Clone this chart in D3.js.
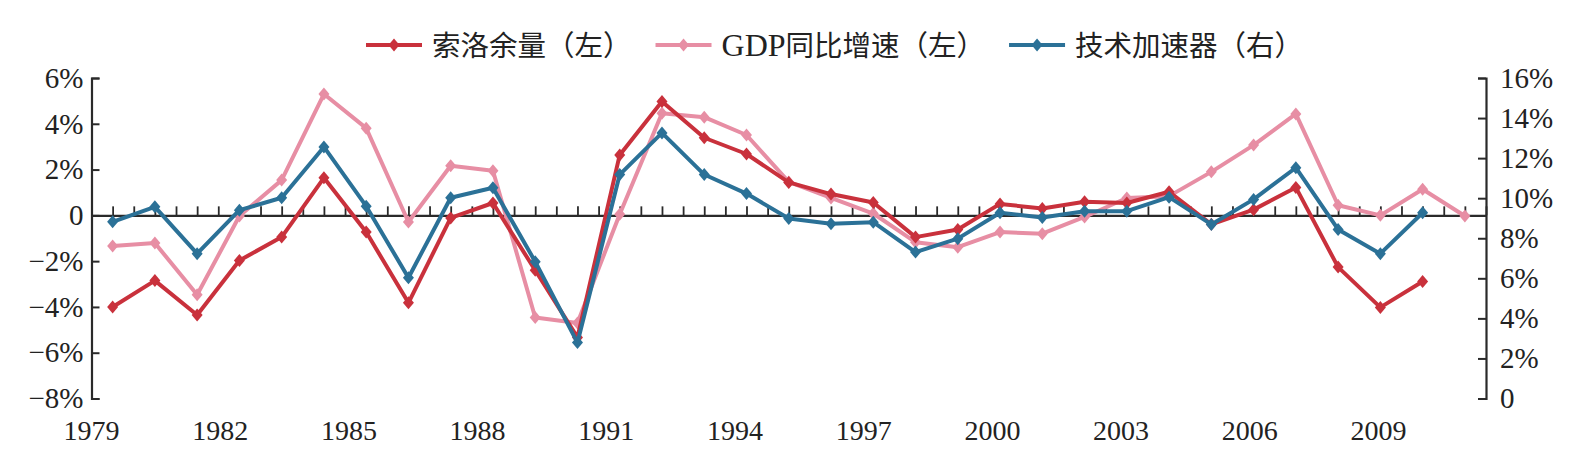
<!DOCTYPE html>
<html><head><meta charset="utf-8">
<script src="https://cdn.jsdelivr.net/npm/d3@7"></script>
<style>
html,body{margin:0;padding:0;background:#fff;}
svg{display:block;font-family:"Liberation Serif","Noto Sans CJK SC",serif;}
</style></head><body>
<svg id="chart" width="1586" height="467"></svg>
<script>
// ---- data ----
const years = [1979,1980,1981,1982,1983,1984,1985,1986,1987,1988,1989,1990,1991,1992,1993,1994,1995,1996,1997,1998,1999,2000,2001,2002,2003,2004,2005,2006,2007,2008,2009,2010,2011];
const solowResidual = [-4.0,-2.85,-4.35,-1.97,-0.95,1.64,-0.73,-3.82,-0.11,0.54,-2.4,-5.33,2.64,4.97,3.39,2.68,1.44,0.93,0.56,-0.95,-0.62,0.5,0.3,0.59,0.54,1.03,-0.39,0.25,1.22,-2.26,-4.02,-2.89];
const gdpGrowth = [-1.34,-1.21,-3.47,-0.03,1.54,5.3,3.81,-0.29,2.17,1.95,-4.46,-4.7,0.05,4.46,4.29,3.51,1.46,0.76,0.08,-1.17,-1.39,-0.73,-0.8,-0.07,0.76,0.84,1.9,3.07,4.43,0.44,0.0,1.14,-0.03];
const techAccelerator = [8.82,9.57,7.23,9.4,10.02,12.56,9.6,6.03,10.02,10.52,6.83,2.79,11.18,13.26,11.18,10.23,8.99,8.72,8.8,7.31,7.98,9.27,9.04,9.35,9.35,10.05,8.69,9.94,11.52,8.44,7.23,9.27];
const leftTicks = [-8,-6,-4,-2,0,2,4,6];
const leftTickLabels = ["\u22128%","\u22126%","\u22124%","\u22122%","0","2%","4%","6%"];
const rightTicks = [0,2,4,6,8,10,12,14,16];
const rightTickLabels = ["0","2%","4%","6%","8%","10%","12%","14%","16%"];
const yearLabels = [1979,1982,1985,1988,1991,1994,1997,2000,2003,2006,2009];
const seriesNames = [["", "索洛余量（左）"], ["GDP", "同比增速（左）"], ["", "技术加速器（右）"]];
const seriesColors = ["#c9313c","#e78ea4","#2b7197"];

// ---- layout ----
const svg = d3.select("#chart");
const plotTop = 78, plotBottom = 398.5, leftX = 91.5, rightX = 1486;
const x = d3.scaleLinear().domain([-0.5, years.length - 0.5]).range([leftX, rightX]);
const yL = d3.scaleLinear().domain([-8, 6]).range([plotBottom, plotTop]);
const yR = d3.scaleLinear().domain([0, 16]).range([plotBottom, plotTop]);
const xLabel = d3.scaleLinear().domain([1979, 2009]).range([91, 1378]);
const axisColor = "#2a2a2a";

// left axis
const gL = svg.append("g").attr("transform", `translate(${leftX},0)`)
  .call(d3.axisLeft(yL).tickValues(leftTicks)
    .tickFormat(d => leftTickLabels[leftTicks.indexOf(d)])
    .tickSize(-8).tickSizeOuter(-8).tickPadding(8));
// right axis
const gR = svg.append("g").attr("transform", `translate(${rightX},0)`)
  .call(d3.axisRight(yR).tickValues(rightTicks)
    .tickFormat(d => rightTickLabels[rightTicks.indexOf(d)])
    .tickSize(-8).tickSizeOuter(-8).tickPadding(14));
[gL, gR].forEach(g => {
  g.selectAll("path.domain").attr("stroke", axisColor).attr("stroke-width", 2.2);
  g.selectAll(".tick line").attr("stroke", axisColor).attr("stroke-width", 2);
  g.selectAll(".tick text").attr("fill", "#222").attr("font-size", 29)
    .attr("font-family", "Liberation Serif");
});

// category axis on zero line
const halfSteps = [];
for (let i = -0.5; i <= years.length - 0.5; i += 0.5) halfSteps.push(i);
const gX = svg.append("g").attr("transform", `translate(0,${yL(0)})`)
  .call(d3.axisBottom(x).tickValues(halfSteps).tickFormat("").tickSize(-9).tickSizeOuter(0));
gX.selectAll("path.domain").attr("stroke", axisColor).attr("stroke-width", 2.2);
gX.selectAll(".tick line").attr("stroke", axisColor).attr("stroke-width", 1.8);

// year labels
const gY = svg.append("g").attr("transform", "translate(0,440)")
  .call(d3.axisBottom(xLabel).tickValues(yearLabels).tickFormat(d => String(d)).tickSize(0).tickPadding(0));
gY.select("path.domain").remove();
gY.selectAll(".tick text").attr("fill", "#222").attr("font-size", 28)
  .attr("font-family", "Liberation Serif").attr("dy", "0");

// series
const diamond = "M0,-6.5L5.5,0L0,6.5L-5.5,0Z";
function drawSeries(values, yScale, color) {
  const pts = values.map((v, i) => [x(i), yScale(v)]);
  svg.append("path").attr("d", d3.line()(pts)).attr("fill", "none")
    .attr("stroke", color).attr("stroke-width", 4).attr("stroke-linejoin", "round");
  svg.append("g").selectAll("path").data(pts).join("path")
    .attr("d", diamond).attr("transform", d => `translate(${d[0]},${d[1]})`).attr("fill", color);
}
drawSeries(gdpGrowth, yL, seriesColors[1]);
drawSeries(solowResidual, yL, seriesColors[0]);
drawSeries(techAccelerator, yR, seriesColors[2]);

// legend
const lg = svg.append("g");
let lx = 366;
const ly = 45;
seriesNames.forEach((parts, i) => {
  lg.append("line").attr("x1", lx).attr("x2", lx + 56).attr("y1", ly).attr("y2", ly)
    .attr("stroke", seriesColors[i]).attr("stroke-width", 4);
  lg.append("path").attr("d", diamond).attr("transform", `translate(${lx + 28},${ly})`).attr("fill", seriesColors[i]);
  const t = lg.append("text").attr("x", lx + 66).attr("y", ly + 10.5).attr("font-size", 28.5).attr("fill", "#222");
  if (parts[0]) t.append("tspan").attr("font-size", 32).text(parts[0]);
  t.append("tspan").text(parts[1]);
  lx += 66 + t.node().getComputedTextLength() + 24;
});
</script>
</body></html>
